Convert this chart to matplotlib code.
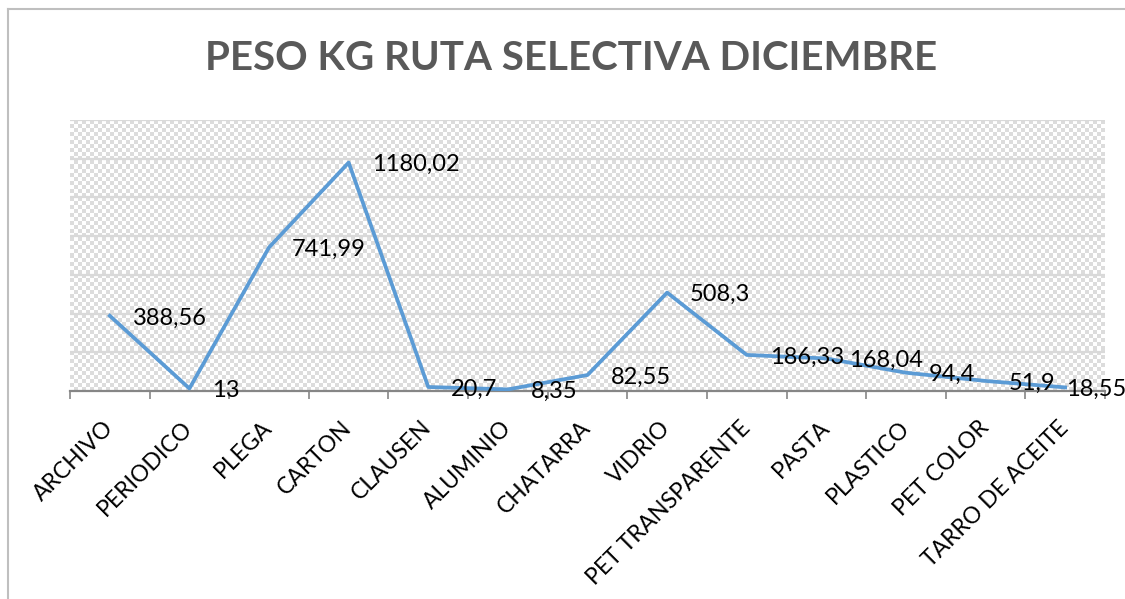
import numpy as np
import matplotlib.pyplot as plt
from matplotlib.lines import Line2D

# Datos de la ruta selectiva (kg)
materiales = ['ARCHIVO', 'PERIODICO', 'PLEGA', 'CARTON', 'CLAUSEN', 'ALUMINIO',
              'CHATARRA', 'VIDRIO', 'PET TRANSPARENTE', 'PASTA', 'PLASTICO',
              'PET COLOR', 'TARRO DE ACEITE']
peso_kg = [388.56, 13, 741.99, 1180.02, 20.7, 8.35, 82.55, 508.3, 186.33,
           168.04, 94.4, 51.9, 18.55]
etiquetas = ['388,56', '13', '741,99', '1180,02', '20,7', '8,35', '82,55',
             '508,3', '186,33', '168,04', '94,4', '51,9', '18,55']

plt.rcParams['font.family'] = ['Lato', 'DejaVu Sans']

W, H = 1125, 599
fig = plt.figure(figsize=(W / 100, H / 100), dpi=100)
ax = fig.add_axes([70 / W, 1 - 391 / H, (1105 - 70) / W, (391 - 120) / H])

x = np.arange(len(materiales))
ax.set_xlim(-0.5, len(materiales) - 0.5)
ax.set_ylim(0, 1400)

# fondo con trama de cuadritos
cell = 4
nx, ny = (1105 - 70) // cell, (391 - 120) // cell
checker = (np.indices((ny, nx)).sum(axis=0) % 2).astype(float)
ax.imshow(checker, cmap=plt.matplotlib.colors.ListedColormap(['#ffffff', '#dcdcdc']),
          extent=[0, 1, 0, 1], transform=ax.transAxes, aspect='auto',
          interpolation='nearest', zorder=0)

for v in range(200, 1401, 200):
    ax.axhline(v, color='#d9d9d9', lw=1.6, zorder=1)

ax.plot(x, peso_kg, color='#5b9bd5', lw=2.7, zorder=3, solid_joinstyle='round')

for i, (v, t) in enumerate(zip(peso_kg, etiquetas)):
    dx = 23 if i < len(materiales) - 1 else 1
    ax.annotate(t, (x[i], v), xytext=(dx * 0.72, -1.5), textcoords='offset points',
                ha='left', va='center', fontsize=17, color='#000000', zorder=4)

for s in ['left', 'right', 'top']:
    ax.spines[s].set_visible(False)
ax.spines['bottom'].set_color('#868686')
ax.spines['bottom'].set_linewidth(1.6)
ax.set_yticks([])

ax.set_xticks(np.arange(len(materiales) + 1) - 0.5, minor=True)
ax.tick_params(axis='x', which='minor', length=6, width=1.2, color='#868686')
ax.set_xticks(x)
ax.tick_params(axis='x', which='major', length=0, pad=24)
ax.set_xticklabels(materiales, rotation=45, ha='right', va='center',
                   rotation_mode='anchor', fontsize=16.5)

fig.text(571 / W, 1 - 59 / H, 'PESO KG RUTA SELECTIVA DICIEMBRE', ha='center',
         va='center', fontsize=29, fontweight='bold', color='#595959')

# marco del gráfico
fig.add_artist(Line2D([8 / W, 8 / W], [0, 1 - 9 / H], color='#bfbfbf', lw=1.5))
fig.add_artist(Line2D([8 / W, 1], [1 - 9 / H, 1 - 9 / H], color='#bfbfbf', lw=1.5))

fig.savefig('out.png', dpi=100)
